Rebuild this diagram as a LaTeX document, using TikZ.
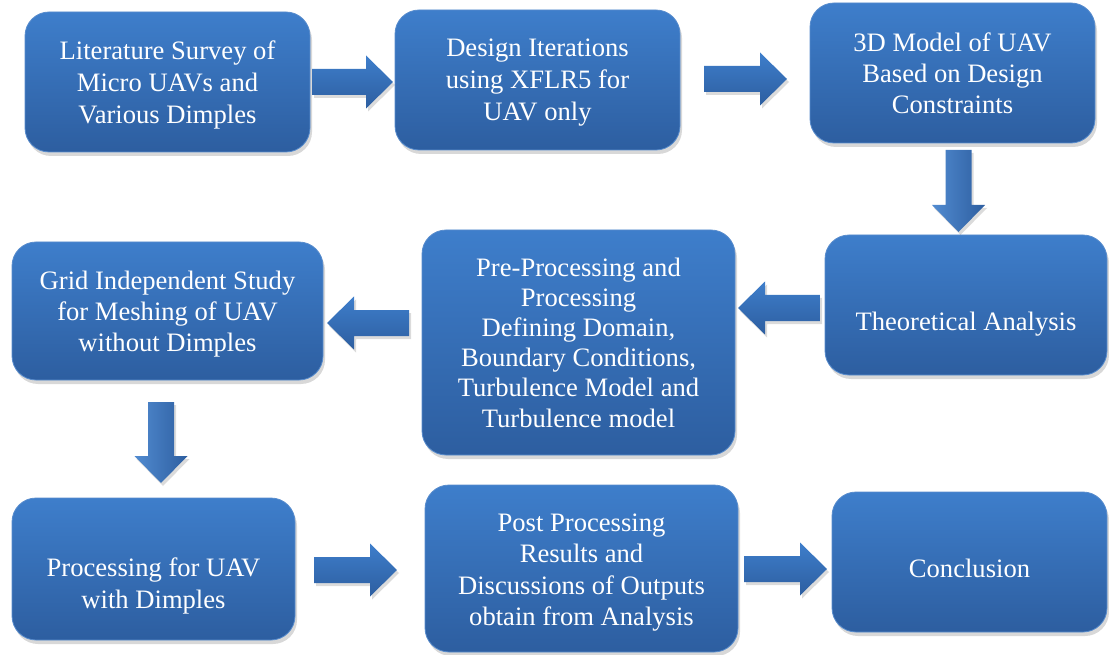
\documentclass[tikz,border=0pt]{standalone}
\usepackage{fontspec}
\setmainfont{Liberation Serif}
\usetikzlibrary{shadows}
\definecolor{boxtop}{RGB}{62,126,203}
\definecolor{boxbot}{RGB}{45,94,160}
\definecolor{boxedge}{RGB}{88,140,205}
\tikzset{
  flowbox/.style={rounded corners=24pt, top color=boxtop, bottom color=boxbot,
    draw=boxedge, line width=0.8pt, inner sep=0pt,
    drop shadow={shadow xshift=2pt, shadow yshift=-4pt, opacity=0.22, fill=black!70}},
  boxtext/.style={text=white, align=center, font=\fontsize{26.6}{32}\selectfont, inner sep=0pt},
  blockarrow/.style={top color=boxtop, bottom color=boxbot, draw=none,
    drop shadow={shadow xshift=2pt, shadow yshift=-3pt, opacity=0.2, fill=black!70}},
  vblockarrow/.style={left color=boxtop!90!white, right color=boxbot, draw=none,
    drop shadow={shadow xshift=2pt, shadow yshift=-3pt, opacity=0.2, fill=black!70}}
}
% horizontal block arrow: start x, tip x, y, direction (+1 right, -1 left)
\newcommand{\harrow}[4]{%
  \path[blockarrow] (#1,{#3-13}) -- ({#2-#4*27},{#3-13}) -- ({#2-#4*27},{#3-26.5}) -- (#2,#3)
    -- ({#2-#4*27},{#3+26.5}) -- ({#2-#4*27},{#3+13}) -- (#1,{#3+13}) -- cycle;}
% vertical (downward) block arrow: x, start y, tip y
\newcommand{\varrow}[3]{%
  \path[vblockarrow] ({#1-13},#2) -- ({#1-13},{#3-27}) -- ({#1-26.5},{#3-27}) -- (#1,#3)
    -- ({#1+26.5},{#3-27}) -- ({#1+13},{#3-27}) -- ({#1+13},#2) -- cycle;}
\begin{document}
\begin{tikzpicture}[x=1pt,y=-1pt]
\useasboundingbox (0,0) rectangle (1109,655);
% boxes
\node[flowbox, minimum width=285pt, minimum height=140pt] (b1) at (167.5,82) {};
\node[flowbox, minimum width=285pt, minimum height=140pt] (b2) at (537.5,80) {};
\node[flowbox, minimum width=285pt, minimum height=140pt] (b3) at (952.5,73) {};
\node[flowbox, minimum width=282pt, minimum height=140pt] (b4) at (966,305) {};
\node[flowbox, minimum width=313pt, minimum height=225pt] (b5) at (578.5,342.5) {};
\node[flowbox, minimum width=311pt, minimum height=138pt] (b6) at (167.5,311) {};
\node[flowbox, minimum width=283pt, minimum height=142pt] (b7) at (153.5,569) {};
\node[flowbox, minimum width=313pt, minimum height=167pt] (b8) at (581.5,568.5) {};
\node[flowbox, minimum width=275pt, minimum height=140pt] (b9) at (969.5,562) {};
% texts
\node[boxtext] (t1) at ([yshift=-3pt]b1.center) {Literature Survey of\\Micro UAVs and\\Various Dimples};
\node[boxtext] (t2) at ([yshift=-3pt]b2.center) {Design Iterations\\using XFLR5 for\\UAV only};
\node[boxtext, font=\fontsize{26.6}{31}\selectfont] (t3) at (b3.center) {3D Model of UAV\\Based on Design\\Constraints};
\node[boxtext] (t4) at ([yshift=-19pt]b4.center) {Theoretical Analysis};
\node[boxtext, font=\fontsize{26.6}{30.2}\selectfont] (t5) at (b5.center) {Pre-Processing and\\Processing\\Defining Domain,\\Boundary Conditions,\\Turbulence Model and\\Turbulence model};
\node[boxtext, font=\fontsize{26.6}{31}\selectfont] (t6) at ([yshift=-3pt]b6.center) {Grid Independent Study\\for Meshing of UAV\\without Dimples};
\node[boxtext] (t7) at ([yshift=-17pt]b7.center) {Processing for UAV\\with Dimples};
\node[boxtext, font=\fontsize{26.6}{31.5}\selectfont] (t8) at ([yshift=-4pt]b8.center) {Post Processing\\Results and\\Discussions of Outputs\\obtain from Analysis};
\node[boxtext] (t9) at ([yshift=-6pt]b9.center) {Conclusion};
% block arrows
\harrow{312}{393}{82}{1}
\harrow{704}{787}{79}{1}
\varrow{958.5}{150}{232}
\harrow{820}{738}{308}{-1}
\harrow{409}{327}{323}{-1}
\varrow{161}{402}{483}
\harrow{314}{397}{570}{1}
\harrow{744}{827}{569}{1}
\end{tikzpicture}
\end{document}
